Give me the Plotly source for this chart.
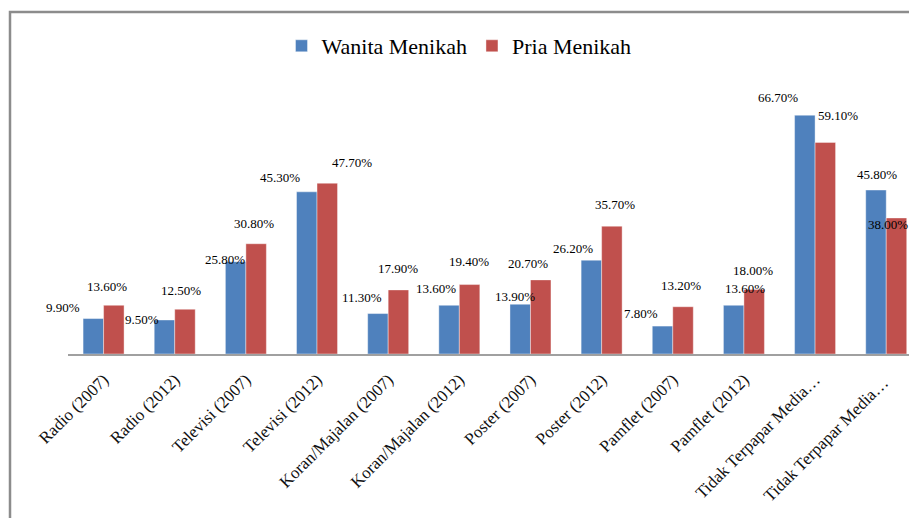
import plotly.graph_objects as go

categories = ["Radio (2007)", "Radio (2012)", "Televisi (2007)", "Televisi (2012)",
              "Koran/Majalan (2007)", "Koran/Majalan (2012)", "Poster (2007)", "Poster (2012)",
              "Pamflet (2007)", "Pamflet (2012)", "Tidak Terpapar Media…", "Tidak Terpapar Media… "]
wanita = [9.9, 9.5, 25.8, 45.3, 11.3, 13.6, 13.9, 26.2, 7.8, 13.6, 66.7, 45.8]
pria = [13.6, 12.5, 30.8, 47.7, 17.9, 19.4, 20.7, 35.7, 13.2, 18.0, 59.1, 38.0]
series_names = ["Wanita Menikah", "Pria Menikah"]

# label placement offsets in pixels (x from category centre, y above bar top)
wanita_dx = [-41, -33, -21, -37, -26, -23, -15, -29, -32, 1, -37, -9]
wanita_dy = [11, 0, 2, 14, 16, 17, 8, 12, 13, 17, 18, 16]
pria_dx = [3, 6, 8, 35, 10, 10, -2, 13, 8, 9, 23, 2]
pria_dy = [19, 19, 20, 21, 21, 23, 16, 22, 21, 19, 27, -7]

W, H = 909, 518
ML, MR, MT, MB = 68, 0, 80, 164
PW, PH = W - ML - MR, H - MT - MB
PX_PER_UNIT = 3.58
CAT_PX = 71.15

BLUE = "#4F81BD"
RED = "#C0504D"
SERIF = "Liberation Serif, Times New Roman, serif"

fig = go.Figure()
fig.add_trace(go.Bar(x=categories, y=wanita, name=series_names[0], marker_color=BLUE,
                     marker_line=dict(color="rgba(255,255,255,0.5)", width=0.8)))
fig.add_trace(go.Bar(x=categories, y=pria, name=series_names[1], marker_color=RED,
                     marker_line=dict(color="rgba(255,255,255,0.5)", width=0.8)))

annotations = []
for i, c in enumerate(categories):
    annotations.append(dict(x=c, y=wanita[i], text=f"{wanita[i]:.2f}%", showarrow=False,
                            xshift=wanita_dx[i], yshift=wanita_dy[i],
                            font=dict(family=SERIF, size=13, color="#000")))
    annotations.append(dict(x=c, y=pria[i], text=f"{pria[i]:.2f}%", showarrow=False,
                            xshift=pria_dx[i], yshift=pria_dy[i],
                            font=dict(family=SERIF, size=13, color="#000")))


def px_x(px):
    return (px - ML) / PW


def px_y(py):
    return (H - MB - py) / PH


border = dict(type="path", xref="paper", yref="paper",
              path=f"M {px_x(10)},{px_y(520)} L {px_x(10)},{px_y(12)} L {px_x(912)},{px_y(12)}",
              line=dict(color="#8c8c8c", width=2.5))

x_end = -0.5 + PW / CAT_PX

fig.update_layout(
    width=W, height=H,
    margin=dict(l=ML, r=MR, t=MT, b=MB, autoexpand=False),
    paper_bgcolor="white", plot_bgcolor="white",
    barmode="group", bargap=0.424, bargroupgap=0,
    showlegend=True,
    legend=dict(orientation="h", x=px_x(459), xanchor="center", y=px_y(46), yanchor="middle",
                font=dict(family=SERIF, size=22, color="#000"), itemclick=False),
    xaxis=dict(range=[-0.5, x_end], showline=True, linecolor="#a0a0a0", linewidth=2,
               showgrid=False, ticks="", tickangle=-45, ticklabelstandoff=7,
               tickfont=dict(family=SERIF, size=17, color="#111")),
    yaxis=dict(range=[0, PH / PX_PER_UNIT], visible=False, showgrid=False),
    annotations=annotations,
    shapes=[border],
)

fig.write_html("out.html", config={"displayModeBar": False},
               post_script="document.body.style.margin='0';document.body.style.overflow='hidden';")
